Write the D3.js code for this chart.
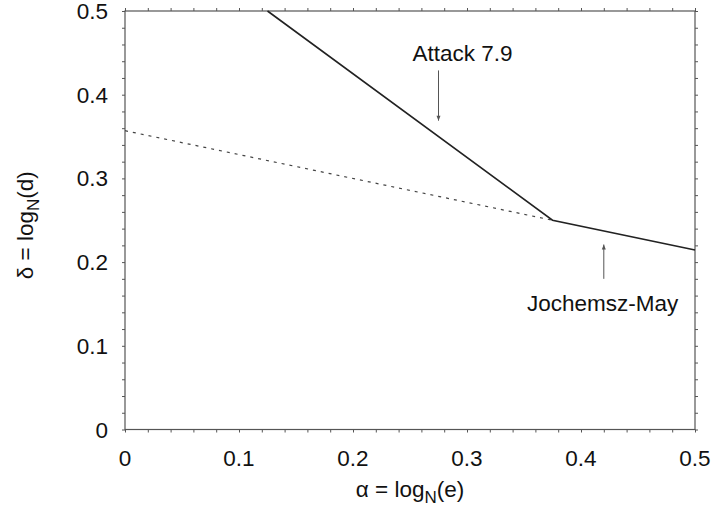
<!DOCTYPE html>
<html>
<head>
<meta charset="utf-8">
<script src="https://cdn.jsdelivr.net/npm/d3@7"></script>
<style>
  body { margin: 0; background: #fff; }
  text { font-family: "Liberation Sans", Arial, sans-serif; fill: #111; }
</style>
</head>
<body>
<div id="svg-container"></div>
<script>
// Chart data
var xDomain = [0, 0.5];
var yDomain = [0, 0.5];
var xTicks = [0, 0.1, 0.2, 0.3, 0.4, 0.5];
var yTicks = [0, 0.1, 0.2, 0.3, 0.4, 0.5];
var xTickLabels = ["0", "0.1", "0.2", "0.3", "0.4", "0.5"];
var yTickLabels = ["0", "0.1", "0.2", "0.3", "0.4", "0.5"];
var minorStep = 0.02;

// Attack 7.9 bound (solid)
var attackLine = [[0.125, 0.5], [0.375, 0.25]];
// Jochemsz-May bound: dashed part then solid part
var jmDashed = [[0, 0.357], [0.375, 0.25]];
var jmSolid = [[0.375, 0.25], [0.5, 0.2145]];

// Annotation arrows
var attackArrow = { x: 0.275, y0: 0.429, y1: 0.369, label: "Attack 7.9", lx: 0.296, ly: 0.440 };
var jmArrow = { x: 0.42, y0: 0.18, y1: 0.221, label: "Jochemsz-May", lx: 0.419, ly: 0.142 };

var width = 715, height = 508;
var margin = { left: 125, right: 20, top: 11, bottom: 78.5 };
var fontSize = 22.5;

var svg = d3.select("#svg-container").append("svg")
    .attr("width", width)
    .attr("height", height);

var x = d3.scaleLinear().domain(xDomain).range([margin.left, width - margin.right]);
var y = d3.scaleLinear().domain(yDomain).range([height - margin.bottom, margin.top]);

var minorTicks = d3.range(0, 0.5 + 1e-9, minorStep);
var axisColor = "#555";

// Axes: ticks point outward on all four sides
svg.append("g")
    .attr("transform", `translate(0,${y(0)})`)
    .call(d3.axisBottom(x).tickValues(minorTicks).tickSize(3).tickFormat(""))
    .call(g => g.select(".domain").remove());
svg.append("g")
    .attr("transform", `translate(0,${y(0.5)})`)
    .call(d3.axisTop(x).tickValues(minorTicks).tickSize(3).tickFormat(""))
    .call(g => g.select(".domain").remove());
svg.append("g")
    .attr("transform", `translate(${x(0)},0)`)
    .call(d3.axisLeft(y).tickValues(minorTicks).tickSize(3).tickFormat(""))
    .call(g => g.select(".domain").remove());
svg.append("g")
    .attr("transform", `translate(${x(0.5)},0)`)
    .call(d3.axisRight(y).tickValues(minorTicks).tickSize(3).tickFormat(""))
    .call(g => g.select(".domain").remove());
svg.selectAll(".tick line").attr("stroke", axisColor);

// Frame
svg.append("rect")
    .attr("x", x(0))
    .attr("y", y(0.5))
    .attr("width", x(0.5) - x(0))
    .attr("height", y(0) - y(0.5))
    .attr("fill", "none")
    .attr("stroke", axisColor)
    .attr("stroke-width", 1.2);

// Tick labels
svg.selectAll(".xlab")
    .data(xTicks)
    .join("text")
    .attr("class", "xlab")
    .attr("x", d => x(d))
    .attr("y", y(0) + 36)
    .attr("text-anchor", "middle")
    .attr("font-size", fontSize)
    .text((d, i) => xTickLabels[i]);

svg.selectAll(".ylab")
    .data(yTicks)
    .join("text")
    .attr("class", "ylab")
    .attr("x", x(0) - 17)
    .attr("y", d => y(d) + 8)
    .attr("text-anchor", "end")
    .attr("font-size", fontSize)
    .text((d, i) => yTickLabels[i]);

// Axis titles
var xt = svg.append("text")
    .attr("x", (x(0) + x(0.5)) / 2)
    .attr("y", 497)
    .attr("text-anchor", "middle")
    .attr("font-size", fontSize);
xt.append("tspan").text("\u03b1 = log");
xt.append("tspan").attr("font-size", 17).attr("dy", 6).text("N");
xt.append("tspan").attr("dy", -6).text("(e)");

var yt = svg.append("text")
    .attr("transform", `translate(33,${(y(0) + y(0.5)) / 2 + 5}) rotate(-90)`)
    .attr("text-anchor", "middle")
    .attr("font-size", fontSize);
yt.append("tspan").text("\u03b4 = log");
yt.append("tspan").attr("font-size", 17).attr("dy", 6).text("N");
yt.append("tspan").attr("dy", -6).text("(d)");

// Lines
var line = d3.line().x(d => x(d[0])).y(d => y(d[1]));

svg.append("path")
    .datum(jmDashed)
    .attr("d", line)
    .attr("fill", "none")
    .attr("stroke", "#444")
    .attr("stroke-width", 1.2)
    .attr("stroke-dasharray", "3,5");

svg.append("path")
    .datum(attackLine.concat(jmSolid.slice(1)))
    .attr("d", line)
    .attr("fill", "none")
    .attr("stroke", "#222")
    .attr("stroke-width", 1.6);

// Arrow marker
svg.append("defs").append("marker")
    .attr("id", "head")
    .attr("viewBox", "0 0 10 10")
    .attr("refX", 10)
    .attr("refY", 5)
    .attr("markerWidth", 8)
    .attr("markerHeight", 5)
    .attr("markerUnits", "userSpaceOnUse")
    .attr("orient", "auto")
    .append("path")
    .attr("d", "M0,1 L10,5 L0,9 z")
    .attr("fill", "#555");

[attackArrow, jmArrow].forEach(function (a) {
    svg.append("line")
        .attr("x1", x(a.x))
        .attr("x2", x(a.x))
        .attr("y1", y(a.y0))
        .attr("y2", y(a.y1))
        .attr("stroke", "#555")
        .attr("stroke-width", 1)
        .attr("marker-end", "url(#head)");
    svg.append("text")
        .attr("x", x(a.lx))
        .attr("y", y(a.ly))
        .attr("text-anchor", "middle")
        .attr("font-size", fontSize)
        .text(a.label);
});
</script>
</body>
</html>
